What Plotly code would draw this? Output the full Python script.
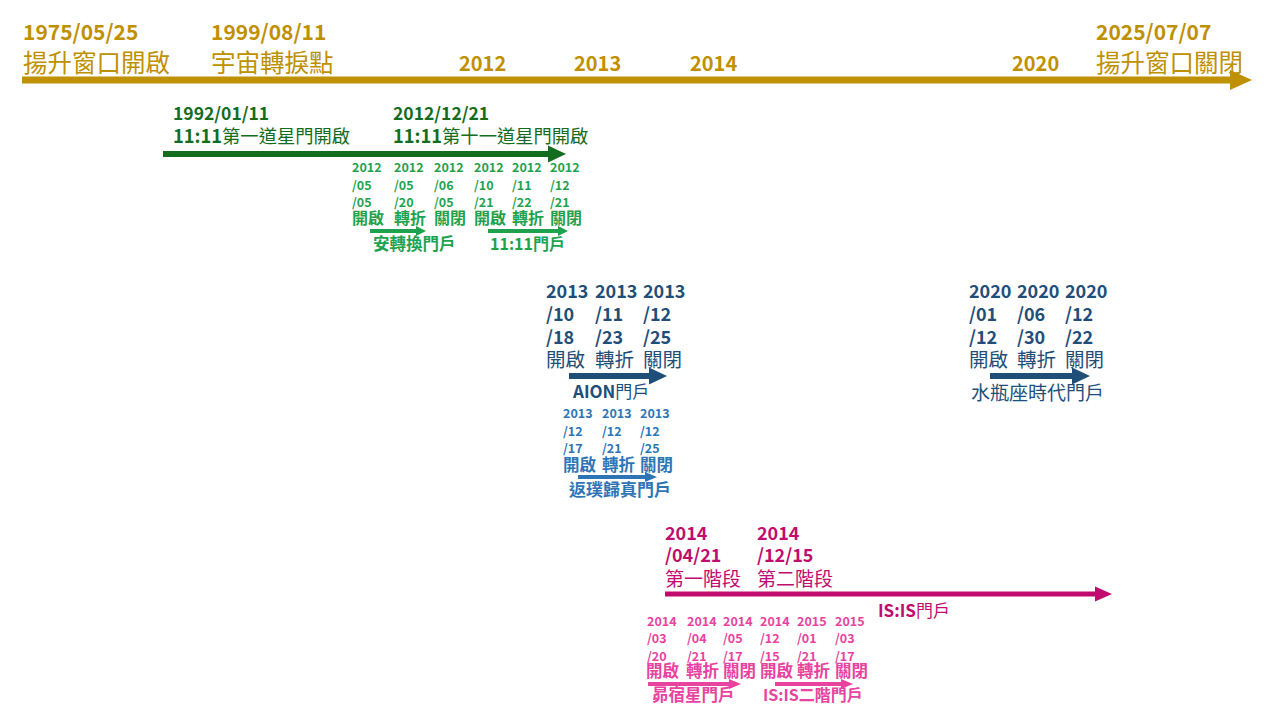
import plotly.graph_objects as go

# ---------------- data (text content) ----------------
main_dates = ["1975/05/25", "1999/08/11", "2025/07/07"]
main_events = ["揚升窗口開啟", "宇宙轉捩點", "揚升窗口關閉"]
main_years = ["2012", "2013", "2014", "2020"]

stargate_dates = ["1992/01/11", "2012/12/21"]
stargate_codes = ["11:11", "11:11"]
stargate_events = ["第一道星門開啟", "第十一道星門開啟"]

green_years = ["2012", "2012", "2012", "2012", "2012", "2012"]
green_months = ["/05", "/05", "/06", "/10", "/11", "/12"]
green_days = ["/05", "/20", "/05", "/21", "/22", "/21"]
green_portals = ["安轉換門戶", "11:11門戶"]

phase_words = ["開啟", "轉折", "關閉"]

aion_years = ["2013", "2013", "2013"]
aion_months = ["/10", "/11", "/12"]
aion_days = ["/18", "/23", "/25"]
aion_portal = ("AION", "門戶")

ret_years = ["2013", "2013", "2013"]
ret_months = ["/12", "/12", "/12"]
ret_days = ["/17", "/21", "/25"]
ret_portal = "返璞歸真門戶"

aq_years = ["2020", "2020", "2020"]
aq_months = ["/01", "/06", "/12"]
aq_days = ["/12", "/30", "/22"]
aq_portal = "水瓶座時代門戶"

isis_years = ["2014", "2014"]
isis_dates = ["/04/21", "/12/15"]
isis_stages = ["第一階段", "第二階段"]
isis_portal = ("IS:IS", "門戶")

pink_years = ["2014", "2014", "2014", "2014", "2015", "2015"]
pink_months = ["/03", "/04", "/05", "/12", "/01", "/03"]
pink_days = ["/20", "/21", "/17", "/15", "/21", "/17"]
pink_portals = ["昴宿星門戶", "IS:IS二階門戶"]

# ---------------- styles ----------------
FONT = "Noto Sans CJK TC"
GOLD = "#BF9000"
DGREEN = "#146C1E"
LGREEN = "#1FA24E"
DBLUE = "#1F4E79"
MBLUE = "#2E75B6"
MAGENTA = "#C00C6E"
PINK = "#E8439E"

# the page body has an 8px margin: the canvas is sized and ranged so that
# data coordinates equal screen pixels
OFF = 8
W, H = 1280 - 2 * OFF, 720 - 2 * OFF

fig = go.Figure()
anns = []
shapes = []


def text(x, y, s, size, color, bold=False, xanchor="left"):
    anns.append(dict(x=x, y=y, xref="x", yref="y", text=(f"<b>{s}</b>" if bold else s),
                     showarrow=False, xanchor=xanchor, yanchor="middle", borderpad=0,
                     font=dict(family=FONT, size=size, color=color)))


def arrow(x0, x1, y, w, head_len, head_h, color):
    shapes.append(dict(type="rect", xref="x", yref="y", x0=x0, x1=x1 - head_len + 1,
                       y0=y - w / 2, y1=y + w / 2, fillcolor=color, line=dict(width=0)))
    shapes.append(dict(type="path", xref="x", yref="y",
                       path=f"M {x1-head_len},{y-head_h/2} L {x1},{y} L {x1-head_len},{y+head_h/2} Z",
                       fillcolor=color, line=dict(width=0)))


def date_column(xs, years, months, days, ys, size, color, bold=True):
    for x, a, b, c in zip(xs, years, months, days):
        text(x, ys[0], a, size, color, bold)
        text(x, ys[1], b, size, color, bold)
        text(x, ys[2], c, size, color, bold)


def phase_row(xs, y, size, color, bold):
    for i, x in enumerate(xs):
        text(x, y, phase_words[i % 3], size, color, bold)


# ---------- main gold timeline ----------
arrow(22, 1252, 80, 7, 22, 20, GOLD)
for x, d, e in zip([22, 210, 1095], main_dates, main_events):
    text(x, 31, d, 21, GOLD, True)
    text(x, 61, e, 24.5, GOLD)
for x, yv in zip([458, 573, 689, 1011], main_years):
    text(x, 62, yv, 20, GOLD, True)

# ---------- dark green stargate ----------
arrow(163, 566, 154, 6, 18, 17, DGREEN)
for x, d, c, e in zip([172, 392], stargate_dates, stargate_codes, stargate_events):
    text(x, 112, d, 17.5, DGREEN, True)
    text(x, 135, f"<b>{c}</b>{e}", 18.3, DGREEN)

# ---------- light green portals ----------
gx = [351, 393, 433, 473, 511, 549]
date_column(gx, green_years, green_months, green_days, [166, 184, 201], 12.5, LGREEN)
phase_row(gx, 217, 16, LGREEN, True)
arrow(370, 426, 231, 4, 10, 10, LGREEN)
arrow(488, 568, 231, 4, 10, 10, LGREEN)
text(414, 243, green_portals[0], 16.5, LGREEN, True, "center")
text(527, 243, green_portals[1], 16, LGREEN, True, "center")

# ---------- AION ----------
ax = [545, 594, 642]
date_column(ax, aion_years, aion_months, aion_days, [290, 313, 336], 18, DBLUE)
phase_row(ax, 358, 19.5, DBLUE, False)
arrow(569, 667, 376, 6, 18, 17, DBLUE)
text(610, 390, f"<b>{aion_portal[0]}</b>{aion_portal[1]}", 17, DBLUE, False, "center")

# ---------- 返璞歸真 ----------
rx = [562, 601, 639]
date_column(rx, ret_years, ret_months, ret_days, [412, 430, 447], 12.5, MBLUE)
phase_row(rx, 464, 16.5, MBLUE, True)
arrow(578, 657, 477, 4, 12, 10, MBLUE)
text(620, 488, ret_portal, 17, MBLUE, True, "center")

# ---------- 水瓶座 ----------
qx = [968, 1016, 1064]
date_column(qx, aq_years, aq_months, aq_days, [290, 313, 336], 18, DBLUE)
phase_row(qx, 358, 19.5, DBLUE, False)
arrow(990, 1090, 376, 6, 18, 17, DBLUE)
text(1037, 391, aq_portal, 19, DBLUE, False, "center")

# ---------- IS:IS ----------
arrow(665, 1112, 594, 5, 17, 15, MAGENTA)
for x, yv, d, s in zip([664, 756], isis_years, isis_dates, isis_stages):
    text(x, 532, yv, 18, MAGENTA, True)
    text(x, 554, d, 18, MAGENTA, True)
    text(x, 577, s, 19, MAGENTA)
text(877, 609, f"<b>{isis_portal[0]}</b>{isis_portal[1]}", 17, MAGENTA)

# ---------- pink portals ----------
px = [646, 686, 722, 759, 796, 834]
date_column(px, pink_years, pink_months, pink_days, [620, 637, 655], 12.5, PINK)
phase_row([645, 685, 722, 759, 796, 834], 670, 16.5, PINK, True)
arrow(648, 741, 684, 4, 12, 10, PINK)
arrow(775, 853, 684, 4, 12, 10, PINK)
text(693, 694, pink_portals[0], 16.5, PINK, True, "center")
text(813, 694, pink_portals[1], 16, PINK, True, "center")

fig.update_layout(
    width=W, height=H,
    margin=dict(l=0, r=0, t=0, b=0),
    paper_bgcolor="white", plot_bgcolor="white",
    xaxis=dict(range=[OFF, OFF + W], visible=False, fixedrange=True),
    yaxis=dict(range=[OFF + H, OFF], visible=False, fixedrange=True),
    annotations=anns, shapes=shapes, showlegend=False,
)
fig.write_html("out.html")
